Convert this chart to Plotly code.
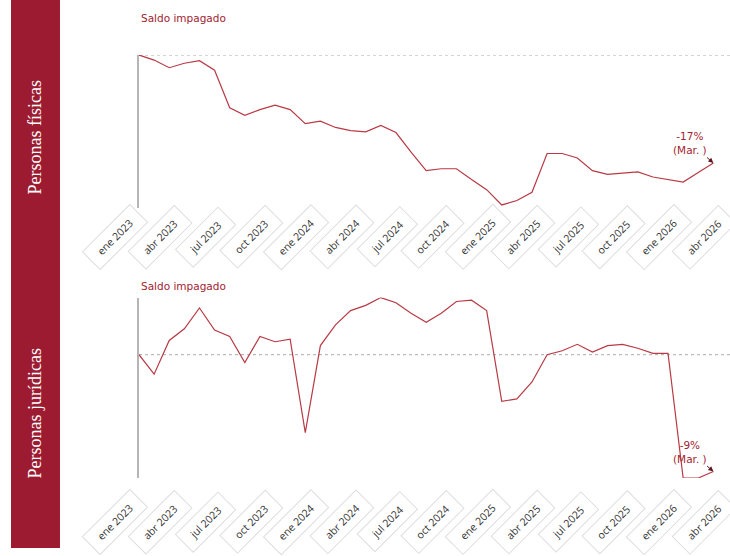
import plotly.graph_objects as go

# --- data -------------------------------------------------------------
months = ['ene 2023', 'feb 2023', 'mar 2023', 'abr 2023', 'may 2023', 'jun 2023',
          'jul 2023', 'ago 2023', 'sep 2023', 'oct 2023', 'nov 2023', 'dic 2023',
          'ene 2024', 'feb 2024', 'mar 2024', 'abr 2024', 'may 2024', 'jun 2024',
          'jul 2024', 'ago 2024', 'sep 2024', 'oct 2024', 'nov 2024', 'dic 2024',
          'ene 2025', 'feb 2025', 'mar 2025', 'abr 2025', 'may 2025', 'jun 2025',
          'jul 2025', 'ago 2025', 'sep 2025', 'oct 2025', 'nov 2025', 'dic 2025',
          'ene 2026', 'feb 2026', 'mar 2026']

fisicas = [100.0, 99.2, 98.0, 98.7, 99.1, 97.6, 91.7, 90.5, 91.4, 92.1, 91.4, 89.2,
           89.6, 88.6, 88.1, 87.9, 88.9, 87.8, 84.7, 81.8, 82.1, 82.1, 80.4, 78.8,
           76.4, 77.1, 78.4, 84.5, 84.5, 83.8, 81.8, 81.2, 81.4, 81.6, 80.8, 80.4,
           80.0, 81.5, 83.0]

juridicas = [100.0, 98.5, 101.1, 102.0, 103.6, 101.9, 101.4, 99.4, 101.4, 101.0, 101.2, 94.0,
             100.7, 102.3, 103.4, 103.8, 104.4, 104.0, 103.2, 102.5, 103.2, 104.1, 104.2, 103.4,
             96.4, 96.6, 97.9, 100.0, 100.3, 100.8, 100.2, 100.7, 100.8, 100.5, 100.1, 100.1,
             90.5, 90.5, 91.0]

tick_pos = [0, 3, 6, 9, 12, 15, 18, 21, 24, 27, 30, 33, 36, 39]
tick_labels = ['ene 2023', 'abr 2023', 'jul 2023', 'oct 2023', 'ene 2024', 'abr 2024',
               'jul 2024', 'oct 2024', 'ene 2025', 'abr 2025', 'jul 2025', 'oct 2025',
               'ene 2026', 'abr 2026']

panel_names = ['Personas físicas', 'Personas jurídicas']
series_title = 'Saldo impagado'
end_labels = ['-17%<br>(Mar. )', '-9%<br>(Mar. )']

# --- styling ------------------------------------------------------------
LINE = '#b83a44'
RED_BAND = '#9c1b30'
TXT_RED = '#a3232f'

idx = list(range(len(months)))

fig = go.Figure()
fig.add_trace(go.Scatter(x=idx, y=fisicas, mode='lines', xaxis='x', yaxis='y',
                         line=dict(color=LINE, width=1.2), text=months,
                         hovertemplate='%{text}: %{y}<extra></extra>', showlegend=False))
fig.add_trace(go.Scatter(x=idx, y=juridicas, mode='lines', xaxis='x2', yaxis='y2',
                         line=dict(color=LINE, width=1.2), text=months,
                         hovertemplate='%{text}: %{y}<extra></extra>', showlegend=False))

xcommon = dict(range=[0, 39.1], showgrid=False, zeroline=False, showline=False,
               showticklabels=False, ticks='', fixedrange=True)
ycommon = dict(showgrid=False, zeroline=False, showline=True, linecolor='#b5b5b5',
               linewidth=1.5, showticklabels=False, ticks='', fixedrange=True)

fig.update_layout(
    width=730, height=556,
    margin=dict(l=139, r=0, t=55, b=78),
    paper_bgcolor='white', plot_bgcolor='white',
    xaxis=dict(**xcommon, anchor='y'),
    yaxis=dict(**ycommon, domain=[0.638, 1.0], range=[75.9, 100.0], anchor='x'),
    xaxis2=dict(**xcommon, anchor='y2'),
    yaxis2=dict(**ycommon, domain=[0.0, 0.4265], range=[90.5, 104.4], anchor='x2'),
)

# reference dotted lines at the starting value
for yref, xref, v in [('y', 'x', fisicas[0]), ('y2', 'x2', juridicas[0])]:
    fig.add_shape(type='line', xref=xref + ' domain', yref=yref, x0=0, x1=1, y0=v, y1=v,
                  line=dict(color='#aaaaaa', width=1, dash='dot'), layer='below')

# side band
fig.add_shape(type='rect', xref='paper', yref='paper', x0=-0.2166, x1=-0.1337,
              y0=-0.1655, y1=1.13, fillcolor=RED_BAND, line=dict(width=0), layer='below')

ann = []
# panel names
for name, yc in zip(panel_names, [(478 - 137) / 423, (478 - 413) / 423]):
    ann.append(dict(text=name, xref='paper', yref='paper', x=-0.1752, y=yc,
                    xanchor='center', yanchor='middle', textangle=-90, showarrow=False,
                    font=dict(family='Liberation Serif', size=18, color='white')))

# series titles
for yc in [(478 - 18) / 423, (478 - 286) / 423]:
    ann.append(dict(text=series_title, xref='paper', yref='paper', x=0, y=yc,
                    xanchor='left', yanchor='middle', showarrow=False,
                    font=dict(family='DejaVu Sans', size=10.5, color=TXT_RED)))

# tick labels in boxes
for xr, yc in [('x', (478 - 237) / 423), ('x2', (478 - 522) / 423)]:
    for p, lab in zip(tick_pos, tick_labels):
        ann.append(dict(text='\u00a0\u00a0' + lab + '\u00a0\u00a0', xref=xr, yref='paper',
                        x=p, y=yc, xshift=-24, xanchor='center', yanchor='middle',
                        textangle=-45, showarrow=False, bgcolor='rgba(255,255,255,0.92)',
                        bordercolor='#dedede', borderwidth=1, borderpad=5,
                        font=dict(family='Open Sans', size=10.5, color='#333333')))

# end annotations
for xr, yr, vals, lab in [('x', 'y', fisicas, end_labels[0]), ('x2', 'y2', juridicas, end_labels[1])]:
    ann.append(dict(text=lab, xref=xr, yref=yr, x=len(vals) - 1, y=vals[-1],
                    ax=-23, ay=-20, showarrow=True, arrowhead=2, arrowsize=1,
                    arrowwidth=1, arrowcolor='#5a1a22',
                    font=dict(family='DejaVu Sans', size=10.5, color=TXT_RED)))

fig.update_layout(annotations=ann)

fig.write_html('out.html', config={'displayModeBar': False},
               post_script="document.body.style.margin='0';document.body.style.overflow='hidden';")
